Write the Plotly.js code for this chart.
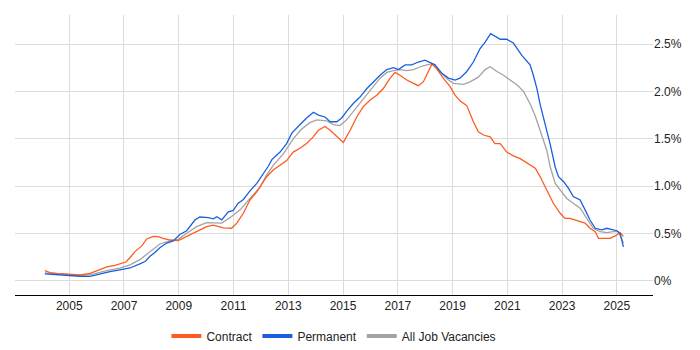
<!DOCTYPE html>
<html>
<head>
<meta charset="utf-8">
<script src="https://cdn.plot.ly/plotly-3.0.1.min.js"></script>
<style>html,body{margin:0;padding:0;background:#fff}#chart{width:700px;height:350px}</style>
</head>
<body>
<div id="chart"></div>
<script>
// Decimal years and percentage values
const contractYears = [2004.11,2004.30,2004.55,2004.92,2005.39,2005.76,2006.12,2006.38,2006.67,2006.85,2007.07,2007.22,2007.40,2007.65,2007.83,2008.07,2008.24,2008.43,2008.68,2008.98,2009.29,2009.65,2010.02,2010.26,2010.63,2010.93,2011.12,2011.36,2011.60,2011.85,2011.97,2012.21,2012.45,2012.70,2012.94,2013.18,2013.43,2013.67,2013.91,2014.10,2014.34,2014.53,2014.77,2015.01,2015.26,2015.50,2015.74,2015.99,2016.23,2016.47,2016.72,2016.90,2017.08,2017.33,2017.57,2017.75,2017.93,2018.12,2018.25,2018.42,2018.66,2018.91,2019.09,2019.27,2019.52,2019.76,2019.94,2020.13,2020.37,2020.55,2020.74,2020.98,2021.22,2021.47,2021.83,2022.02,2022.20,2022.44,2022.68,2022.93,2023.11,2023.29,2023.48,2023.66,2023.84,2024.02,2024.21,2024.33,2024.76,2024.94,2025.12,2025.24];
const contractValues = [0.109,0.088,0.080,0.070,0.063,0.080,0.116,0.148,0.165,0.180,0.200,0.245,0.310,0.370,0.443,0.470,0.467,0.450,0.432,0.425,0.467,0.520,0.573,0.590,0.560,0.556,0.610,0.714,0.854,0.940,0.995,1.100,1.170,1.220,1.270,1.360,1.400,1.450,1.520,1.590,1.630,1.590,1.520,1.460,1.590,1.730,1.840,1.910,1.960,2.030,2.140,2.200,2.170,2.120,2.085,2.060,2.100,2.210,2.290,2.240,2.140,2.050,1.960,1.900,1.850,1.680,1.575,1.540,1.520,1.450,1.450,1.360,1.320,1.290,1.220,1.190,1.100,0.960,0.820,0.714,0.660,0.660,0.643,0.625,0.610,0.556,0.520,0.450,0.450,0.475,0.510,0.470];

const permanentYears = [2004.11,2004.66,2005.39,2005.76,2006.12,2006.49,2006.85,2007.22,2007.58,2007.77,2007.95,2008.13,2008.31,2008.56,2008.80,2009.04,2009.29,2009.47,2009.59,2009.77,2010.08,2010.26,2010.39,2010.57,2010.81,2010.99,2011.17,2011.36,2011.60,2011.85,2012.09,2012.27,2012.40,2012.70,2012.94,2013.13,2013.43,2013.67,2013.92,2014.10,2014.34,2014.53,2014.77,2014.95,2015.13,2015.38,2015.62,2015.87,2016.11,2016.35,2016.60,2016.84,2017.02,2017.27,2017.51,2017.75,2017.99,2018.18,2018.36,2018.61,2018.85,2019.09,2019.27,2019.52,2019.76,2020.00,2020.19,2020.39,2020.55,2020.74,2020.98,2021.22,2021.53,2021.71,2021.83,2021.95,2022.08,2022.20,2022.38,2022.56,2022.75,2022.87,2023.05,2023.23,2023.41,2023.66,2023.84,2024.02,2024.21,2024.45,2024.63,2024.82,2025.00,2025.12,2025.24];
const permanentValues = [0.075,0.062,0.050,0.048,0.075,0.098,0.118,0.137,0.180,0.205,0.260,0.300,0.350,0.400,0.422,0.490,0.530,0.600,0.643,0.675,0.668,0.655,0.678,0.645,0.730,0.745,0.820,0.860,0.950,1.030,1.130,1.210,1.280,1.360,1.450,1.560,1.650,1.720,1.780,1.750,1.730,1.680,1.680,1.720,1.790,1.875,1.940,2.030,2.100,2.170,2.230,2.250,2.230,2.280,2.280,2.310,2.330,2.300,2.280,2.190,2.140,2.120,2.140,2.210,2.310,2.450,2.520,2.610,2.580,2.550,2.550,2.510,2.380,2.320,2.280,2.170,2.030,1.860,1.660,1.450,1.200,1.100,1.050,0.980,0.890,0.854,0.750,0.643,0.556,0.540,0.556,0.540,0.530,0.500,0.360];

const allJobsYears = [2004.11,2004.92,2005.46,2005.87,2006.37,2006.85,2007.22,2007.58,2007.95,2008.31,2008.68,2008.98,2009.29,2009.65,2010.02,2010.32,2010.57,2010.87,2011.24,2011.60,2011.97,2012.21,2012.45,2012.82,2013.18,2013.48,2013.79,2014.04,2014.40,2014.65,2014.89,2015.13,2015.38,2015.62,2015.87,2016.11,2016.35,2016.60,2016.84,2017.08,2017.33,2017.57,2017.82,2018.06,2018.24,2018.42,2018.66,2018.85,2019.03,2019.40,2019.64,2019.94,2020.19,2020.37,2020.62,2020.86,2021.10,2021.35,2021.59,2021.83,2022.02,2022.14,2022.44,2022.56,2022.75,2022.93,2023.17,2023.41,2023.66,2023.90,2024.14,2024.39,2024.63,2024.88,2025.06,2025.24];
const allJobsValues = [0.085,0.063,0.053,0.072,0.109,0.135,0.170,0.225,0.310,0.390,0.422,0.440,0.503,0.573,0.615,0.615,0.610,0.668,0.750,0.870,0.990,1.120,1.220,1.340,1.500,1.600,1.670,1.700,1.690,1.650,1.640,1.700,1.790,1.875,1.960,2.050,2.140,2.200,2.220,2.230,2.220,2.230,2.260,2.280,2.290,2.240,2.170,2.120,2.085,2.075,2.100,2.150,2.230,2.260,2.210,2.170,2.120,2.070,2.000,1.870,1.740,1.640,1.380,1.210,1.030,0.960,0.870,0.820,0.767,0.660,0.556,0.520,0.510,0.520,0.520,0.400];

const seriesNames = ["Contract","Permanent","All Job Vacancies"];
const seriesColors = ["#FF5A1F","#1A5FE0","#A3A3A3"];
const xTickVals = [2005,2007,2009,2011,2013,2015,2017,2019,2021,2023,2025];
const xTickText = ["2005","2007","2009","2011","2013","2015","2017","2019","2021","2023","2025"];
const yTickVals = [0,0.5,1,1.5,2,2.5];
const yTickText = ["0%","0.5%","1.0%","1.5%","2.0%","2.5%"];

const xs = [contractYears, permanentYears, allJobsYears];
const ys = [contractValues, permanentValues, allJobsValues];
const order = [2,0,1]; // draw gray under, blue on top
const traces = [];
order.forEach(i => {
  traces.push({x: xs[i], y: ys[i], type: 'scatter', mode: 'lines', name: seriesNames[i],
    line: {color: seriesColors[i], width: 1.3}, showlegend: false, hoverinfo: 'skip'});
});
[0,1,2].forEach(i => {
  traces.push({x: [null], y: [null], type: 'scatter', mode: 'lines', name: seriesNames[i],
    line: {color: seriesColors[i], width: 4}, showlegend: true});
});

const layout = {
  width: 700, height: 350,
  margin: {l: 15, r: 47, t: 15, b: 55},
  paper_bgcolor: '#fff', plot_bgcolor: '#fff',
  font: {family: 'Liberation Sans, Arial, sans-serif', size: 12, color: '#222'},
  showlegend: true,
  legend: {orientation: 'h', x: 0.477, xanchor: 'center', xref: 'container',
    y: 0.04, yanchor: 'middle', yref: 'container',
    font: {size: 12, color: '#222'}, traceorder: 'normal', itemwidth: 30},
  xaxis: {type: 'linear', range: [2003.02, 2026.32], tickvals: xTickVals, ticktext: xTickText,
    showgrid: true, gridcolor: '#dcdcdc', gridwidth: 1, zeroline: false, automargin: false,
    showline: true, linecolor: '#000', linewidth: 1, ticks: '', fixedrange: true},
  yaxis: {side: 'right', range: [-0.148, 2.806], tickvals: yTickVals, ticktext: yTickText,
    showgrid: true, gridcolor: '#dcdcdc', gridwidth: 1, zeroline: false, automargin: false,
    showline: false, ticks: '', fixedrange: true}
};
Plotly.newPlot('chart', traces, layout, {displayModeBar: false, staticPlot: true});
</script>
</body>
</html>
